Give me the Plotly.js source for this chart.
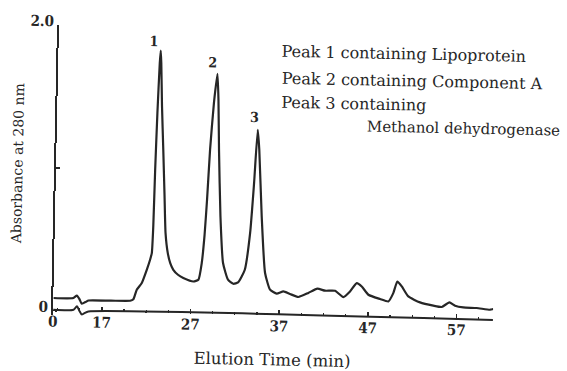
<!DOCTYPE html>
<html>
<head>
<meta charset="utf-8">
<script src="https://cdn.plot.ly/plotly-3.0.1.min.js"></script>
<style>
  html, body { margin: 0; padding: 0; background: #fff; }
  #chart { width: 567px; height: 371px; transform: rotate(1.2deg); transform-origin: 53px 311px; }
</style>
</head>
<body>
<div id="chart"></div>
<script>
// Elution profile (absorbance at 280 nm)
const elutionTime = [11.52, 13.77, 14.15, 14.45, 14.73, 15.21, 15.47, 18.0, 20.17, 20.53, 20.89, 21.44, 21.97, 22.32, 22.50,
  22.60, 22.68, 22.80, 22.95, 23.03, 23.12, 23.30, 23.55, 23.80, 24.00, 24.30, 24.60, 24.96, 25.5, 26.11, 27.25, 27.81,
  28.15, 28.40, 28.60, 28.82, 29.15, 29.48, 29.65, 29.83, 30.15, 30.55, 31.15, 31.76, 32.29, 33.02, 33.53, 33.86, 34.15,
  34.37, 34.80, 35.31, 35.91, 36.67, 37.42, 38.17, 39.12, 40.24, 41.24, 42.12, 43.24, 44.19, 44.93, 45.67, 46.24, 47.01,
  48.33, 49.27, 49.81, 50.24, 50.75, 51.51, 52.84, 54.35, 55.30, 56.15, 56.80, 57.73, 59.24, 60.75, 61.12];
const absorbance = [0.089, 0.092, 0.110, 0.085, 0.053, 0.068, 0.077, 0.079, 0.081, 0.092, 0.159, 0.207, 0.300, 0.371, 0.418,
  0.60, 1.0, 1.4, 1.75, 1.836, 1.75, 1.45, 1.14, 0.82, 0.56, 0.42, 0.35, 0.304, 0.27, 0.248, 0.225, 0.238,
  0.355, 0.55, 0.80, 1.149, 1.48, 1.682, 1.50, 1.150, 0.684, 0.359, 0.243, 0.215, 0.225, 0.315, 0.572, 0.922, 1.296,
  1.156, 0.690, 0.295, 0.179, 0.152, 0.169, 0.152, 0.132, 0.162, 0.193, 0.180, 0.181, 0.138, 0.178, 0.238, 0.215, 0.158,
  0.130, 0.114, 0.173, 0.255, 0.221, 0.152, 0.112, 0.091, 0.083, 0.116, 0.094, 0.083, 0.081, 0.071, 0.077];
// Lower base line (time axis with break mark)
const baseTime = [11.52, 13.80, 14.18, 14.50, 14.76, 15.10, 15.49, 61.12];
const baseAbs = [0.007, 0.010, 0.034, 0.000, -0.024, -0.010, 0.000, 0.000];

const xTickVals = [11.5, 17, 27, 37, 47, 57];
const xTickText = ['0', '17', '27', '37', '47', '57'];
const yTickVals = [0, 1, 2];
const yTickText = ['0', '', '2.0'];
const peakNames = ['1', '2', '3'];
const peakWindows = [[21, 26], [28, 31], [33, 35]];
const peakNotes = ['Peak 1 containing Lipoprotein', 'Peak 2 containing Component A', 'Peak 3 containing', 'Methanol dehydrogenase'];

const ink = '#262626';
const serif = 'DejaVu Serif, serif';
const digitFont = 'DejaVu Serif Condensed, DejaVu Serif, serif';

const traces = [
  { x: baseTime, y: baseAbs, type: 'scatter', mode: 'lines', line: { color: ink, width: 2, shape: 'spline', smoothing: 0.6 }, hoverinfo: 'skip', showlegend: false },
  { x: elutionTime, y: absorbance, type: 'scatter', mode: 'lines', line: { color: ink, width: 2.2, shape: 'spline', smoothing: 0.5 }, showlegend: false }
];

const annotations = [];
const peakShift = [[-7, 9], [-5, 11], [-3, 13]];
peakWindows.forEach((w, k) => {
  let best = -1;
  for (let i = 0; i < elutionTime.length; i++) {
    if (elutionTime[i] >= w[0] && elutionTime[i] <= w[1] && (best < 0 || absorbance[i] > absorbance[best])) best = i;
  }
  annotations.push({ x: elutionTime[best], y: absorbance[best], xref: 'x', yref: 'y', text: peakNames[k], showarrow: false,
    xanchor: 'center', yanchor: 'middle', xshift: peakShift[k][0], yshift: peakShift[k][1],
    font: { family: digitFont, size: 14, color: ink, weight: 'bold' } });
});
const notePos = [[0.503, 0.927], [0.504, 0.834], [0.505, 0.751], [0.700, 0.671]];
const noteSize = [16, 16, 16, 15];
peakNotes.forEach((t, k) => {
  annotations.push({ x: notePos[k][0], y: notePos[k][1], xref: 'paper', yref: 'paper', text: t, showarrow: false,
    xanchor: 'left', yanchor: 'middle', font: { family: serif, size: noteSize[k], color: ink } });
});
annotations.push({ x: -0.088, y: 0.518, xref: 'paper', yref: 'paper', text: 'Absorbance at 280 nm', textangle: -90,
  showarrow: false, xanchor: 'center', yanchor: 'middle', font: { family: serif, size: 14, color: ink } });

const layout = {
  width: 567, height: 371,
  margin: { l: 53, r: 74, t: 25, b: 56 },
  paper_bgcolor: '#fff', plot_bgcolor: '#fff',
  showlegend: false,
  xaxis: {
    range: [11.5, 61.1], anchor: 'free', position: 0.03 / 2.03,
    showline: false, zeroline: false, showgrid: false,
    tickmode: 'array', tickvals: xTickVals, ticktext: xTickText,
    ticks: 'inside', ticklen: 5, tickwidth: 1.6, tickcolor: ink,
    minor: { tickmode: 'linear', tick0: 17, dtick: 2.5, ticks: 'inside', ticklen: 3, tickwidth: 1.3, tickcolor: ink },
    tickfont: { family: digitFont, size: 15, color: ink, weight: 'bold' },
    title: { text: 'Elution Time (min)', font: { family: serif, size: 16.5, color: ink }, standoff: 19 }
  },
  yaxis: {
    range: [-0.03, 2.0], showline: true, linecolor: ink, linewidth: 2, zeroline: false, showgrid: false,
    tickmode: 'array', tickvals: yTickVals, ticktext: yTickText,
    ticks: 'inside', ticklen: 4, tickwidth: 1.5, tickcolor: ink, ticklabelshift: -4, ticklabelstandoff: 0,
    tickfont: { family: digitFont, size: 15, color: ink, weight: 'bold' }
  },
  annotations: annotations
};

Plotly.newPlot('chart', traces, layout, { displayModeBar: false, staticPlot: true });
</script>
</body>
</html>
